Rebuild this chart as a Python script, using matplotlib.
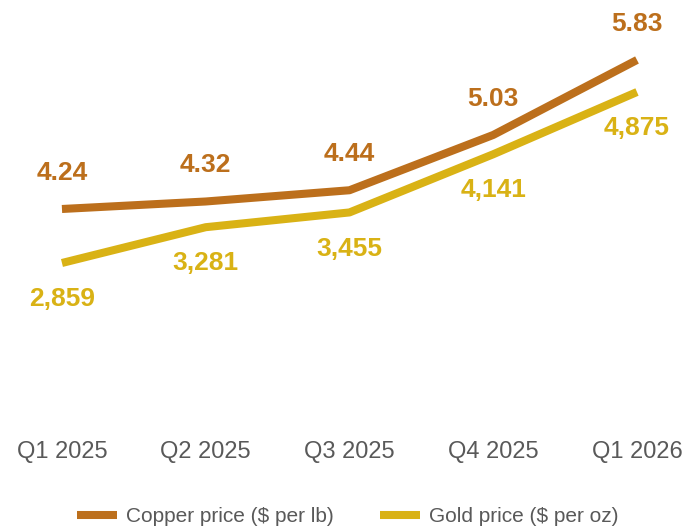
import matplotlib.pyplot as plt

plt.rcParams["font.family"] = ["Liberation Sans", "DejaVu Sans"]

quarters = ["Q1 2025", "Q2 2025", "Q3 2025", "Q4 2025", "Q1 2026"]
copper = [4.24, 4.32, 4.44, 5.03, 5.83]
gold = [2859, 3281, 3455, 4141, 4875]

copper_color = "#BC6F1C"
gold_color = "#D9B215"
grey = "#595959"

fig = plt.figure(figsize=(6.85, 5.28), dpi=100)
ax = fig.add_axes([0, 0, 1, 1])
ax2 = ax.twinx()

x = list(range(len(quarters)))

l1, = ax.plot(x, copper, color=copper_color, lw=5.8, solid_capstyle="butt",
              solid_joinstyle="round", label="Copper price ($ per lb)")
l2, = ax2.plot(x, gold, color=gold_color, lw=5.8, solid_capstyle="butt",
               solid_joinstyle="round", label="Gold price ($ per oz)")

ax.set_xlim(-0.431, 4.334)
ax.set_ylim(0.836, 6.470)
ax2.set_ylim(-266, 5960)

for xi, v in zip(x, copper):
    ax.annotate(f"{v:.2f}", (xi, v), xytext=(0, 26), textcoords="offset points",
                ha="center", va="center", fontsize=19, fontweight="bold",
                color=copper_color)

for xi, v in zip(x, gold):
    ax2.annotate(f"{v:,}", (xi, v), xytext=(0, -26), textcoords="offset points",
                 ha="center", va="center", fontsize=19, fontweight="bold",
                 color=gold_color)

for xi, q in zip(x, quarters):
    ax.text(xi, 1 - 452 / 528, q, transform=ax.get_xaxis_transform(),
            ha="center", va="center", fontsize=17, color=grey)

for a in (ax, ax2):
    a.axis("off")

fig.legend(handles=[l1, l2], loc="center", bbox_to_anchor=(0.508, 1 - 517 / 528),
           ncol=2, frameon=False, fontsize=15, labelcolor=grey,
           handlelength=1.9, columnspacing=2.2, handletextpad=0.45)

fig.savefig("out.png", dpi=100)
